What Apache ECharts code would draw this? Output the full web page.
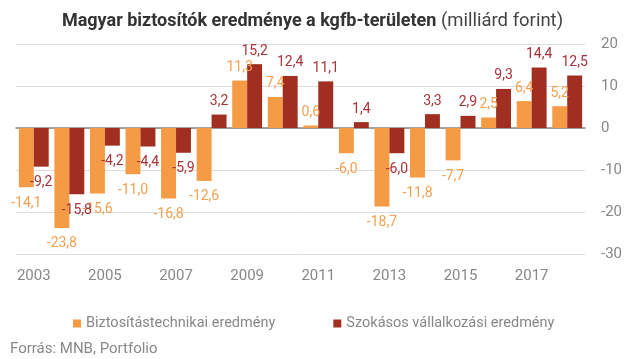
<!DOCTYPE html>
<html><head><meta charset="utf-8">
<script src="https://cdn.jsdelivr.net/npm/echarts@6/dist/echarts.min.js"></script>
<style>html,body{margin:0;padding:0;background:#fff}#c{width:625px;height:359px}</style>
</head><body><div id="c"></div>
<script>
const years = ['2003','2004','2005','2006','2007','2008','2009','2010','2011','2012','2013','2014','2015','2016','2017','2018'];
const technical = [-14.1,-23.8,-15.6,-11.0,-16.8,-12.6,11.3,7.4,0.6,-6.0,-18.7,-11.8,-7.7,2.5,6.4,5.2];
const ordinary = [-9.2,-15.8,-4.2,-4.4,-5.9,3.2,15.2,12.4,11.1,1.4,-6.0,3.3,2.9,9.3,14.4,12.5];
const yTicks = [-30,-20,-10,0,10,20];
const names = ['Biztosítástechnikai eredmény','Szokásos vállalkozási eredmény'];

const font = 'Roboto, sans-serif';
function mk(vals, labelColor){
  return vals.map(v => ({value: v, label: {position: v >= 0 ? 'top' : 'bottom', distance: v >= 0 ? 6 : 9, color: labelColor}}));
}
const fmt = p => p.value.toFixed(1).replace('.', ',');
const chart = echarts.init(document.getElementById('c'));
chart.setOption({
  animation: false,
  textStyle: {fontFamily: font},
  title: {
    text: '{b|Magyar biztosítók eredménye a kgfb-területen} {n|(milliárd forint)}',
    left: 'center', top: 7,
    textStyle: {rich: {
      b: {fontFamily: font, fontSize: 18, fontWeight: 'bold', color: '#333'},
      n: {fontFamily: font, fontSize: 18.5, fontWeight: 'normal', color: '#444'}
    }}
  },
  legend: {
    data: names, top: 311, left: 68, itemWidth: 8, itemHeight: 8, itemGap: 58,
    icon: 'rect',
    textStyle: {color: '#888', fontSize: 14.5, fontFamily: font}
  },
  graphic: [{type: 'text', left: 10, top: 342, style: {text: 'Forrás: MNB, Portfolio', fill: '#888', font: '15px Roboto, sans-serif'}}],
  grid: {left: 16, right: 38, top: 44, bottom: 105},
  xAxis: {
    type: 'category', data: years,
    axisLine: {onZero: true, lineStyle: {color: '#888', width: 1.5}},
    axisTick: {show: false},
    axisLabel: {interval: 1, color: '#888', fontSize: 15, margin: 15, fontFamily: font}
  },
  yAxis: {
    type: 'value', position: 'right', min: yTicks[0], max: yTicks[yTicks.length-1], interval: 10,
    axisLabel: {color: '#888', fontSize: 15, margin: 16, fontFamily: font},
    splitLine: {lineStyle: {color: '#ddd'}},
    axisLine: {show: false}, axisTick: {show: false}
  },
  series: [
    {name: names[0], type: 'bar', data: mk(technical, '#f5a050'), itemStyle: {color: '#f59a45'},
     barGap: '0%', barCategoryGap: '16%',
     label: {show: true, fontSize: 14, fontFamily: font, formatter: fmt}},
    {name: names[1], type: 'bar', data: mk(ordinary, '#a8343a'), itemStyle: {color: '#a02f22'},
     barGap: '0%', barCategoryGap: '16%',
     label: {show: true, fontSize: 14, fontFamily: font, formatter: fmt}}
  ]
});
</script></body></html>
